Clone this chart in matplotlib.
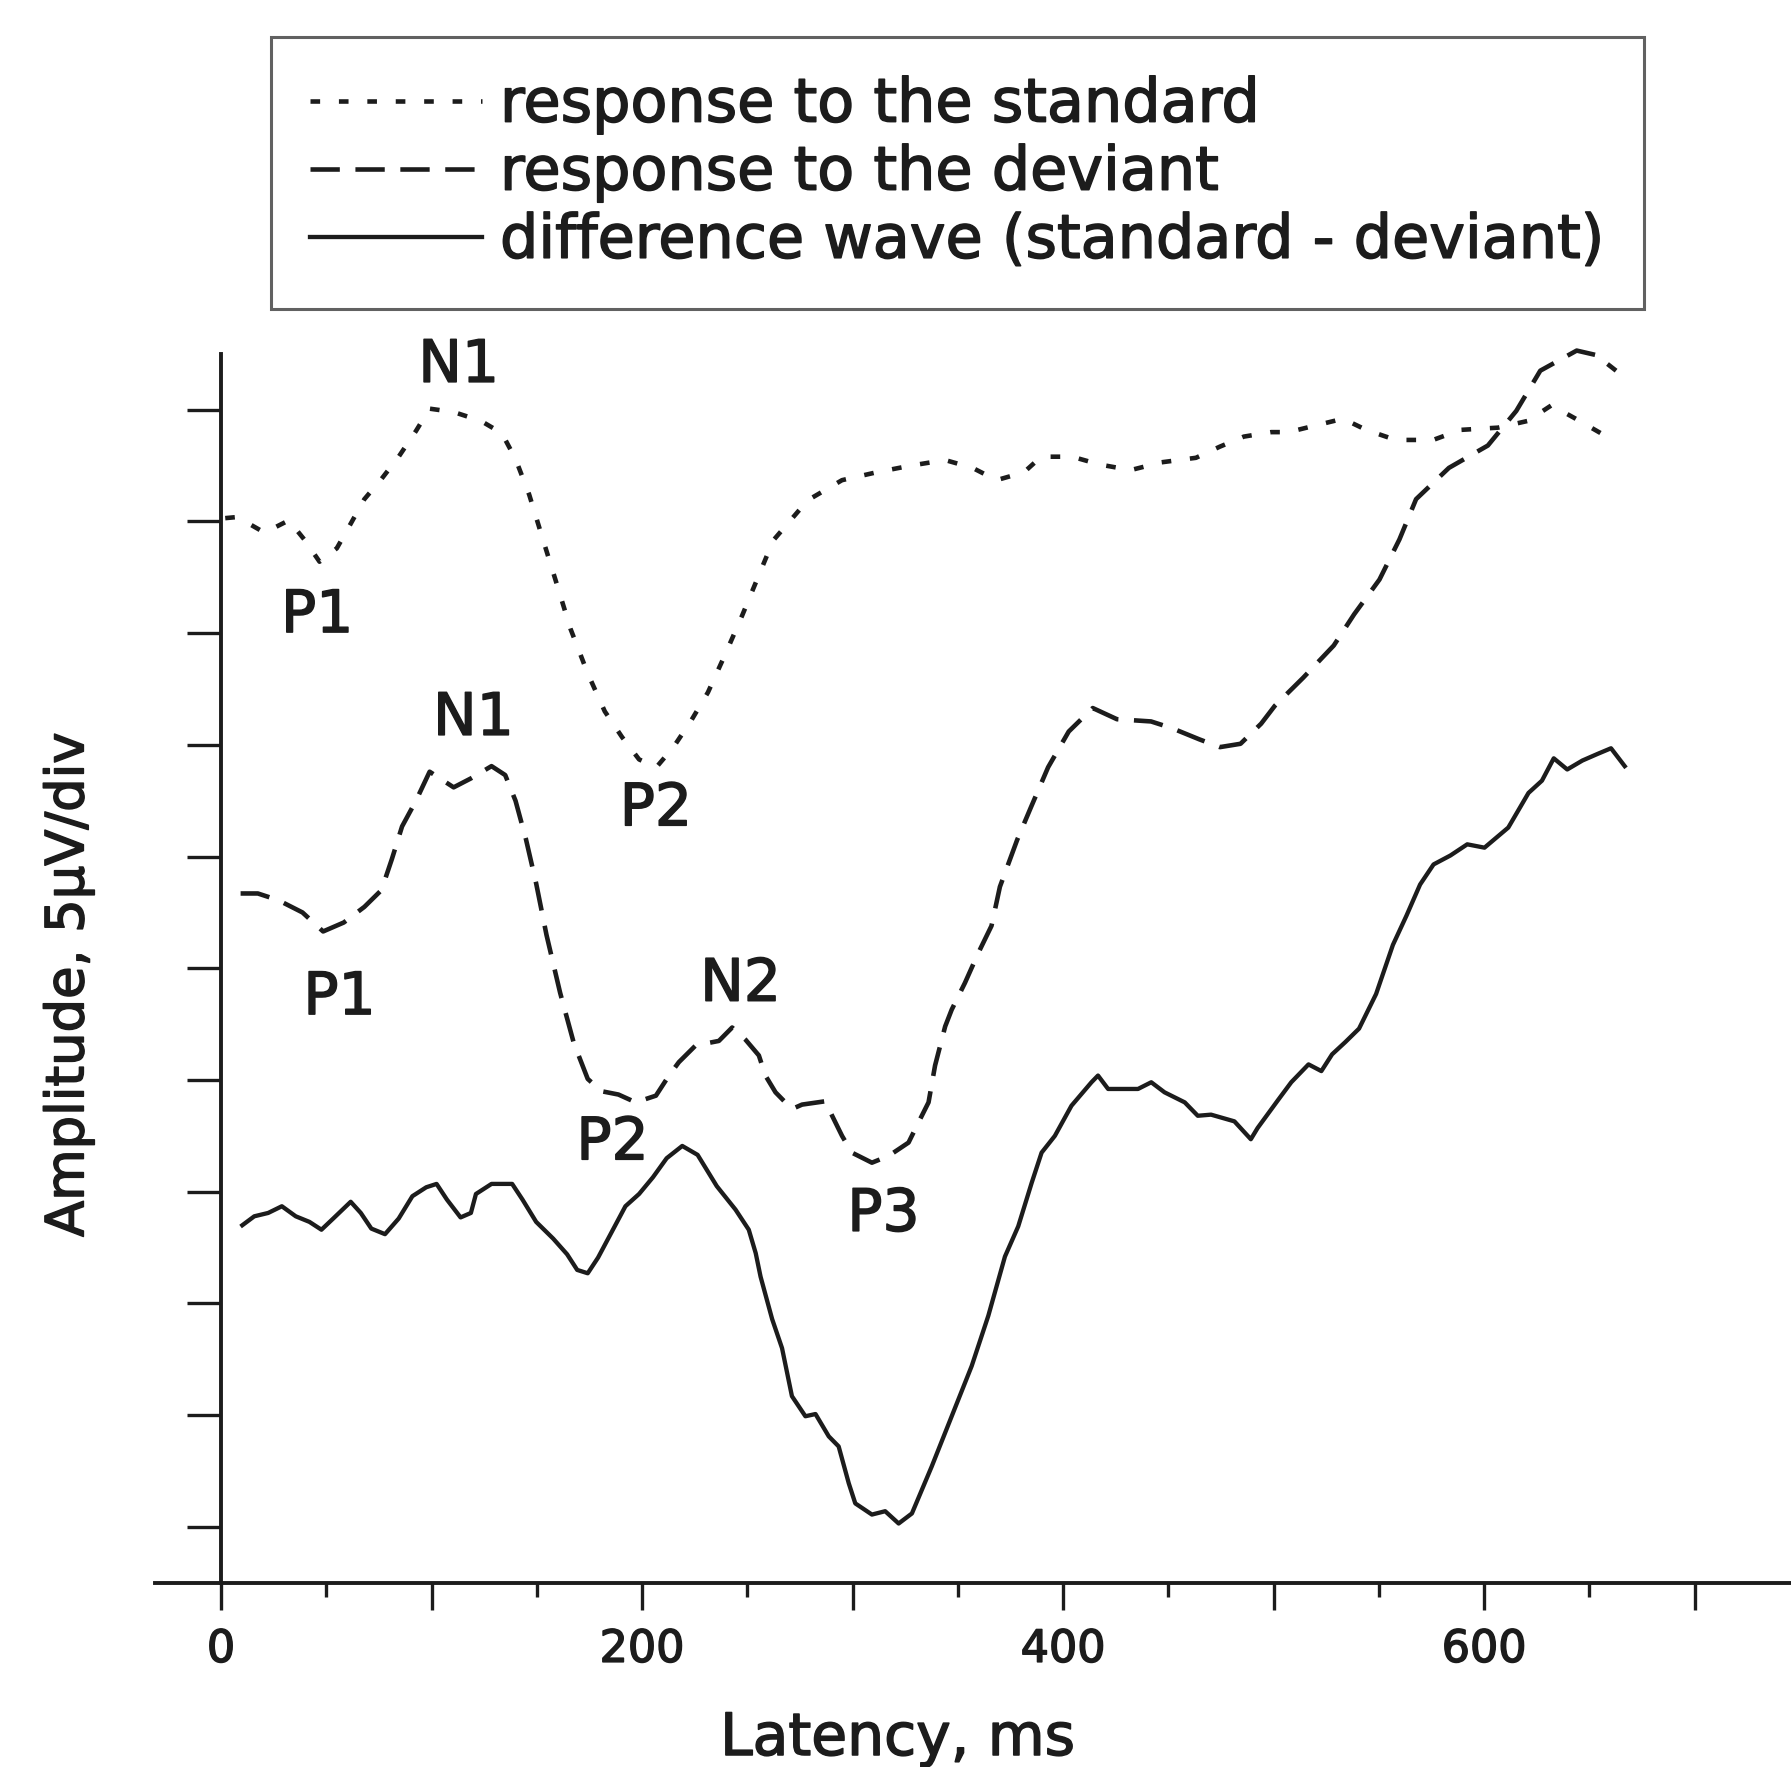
import matplotlib
matplotlib.use("Agg")
from matplotlib import pyplot as plt
from matplotlib import patheffects
from matplotlib.ticker import MultipleLocator, FixedLocator

# ---------------- DATA (latency in ms, amplitude in divisions of 5 uV) ----------------
std_ms = [2, 7.7, 20.7, 32.2, 39.5, 46.8, 55.0, 61.6, 68.1, 76.2, 84.4, 92.6, 99.1, 110.5,
          123.5, 133.4, 139.9, 146.4, 152.9, 159.5, 166.0, 174.2, 182.3, 190.5, 198.6, 206.8,
          214.9, 223.1, 231.3, 239.5, 247.6, 262.3, 278.7, 295.0, 311.3, 327.6, 344.0, 357.0,
          368.4, 381.4, 389.6, 404.3, 417.4, 432.1, 446.8, 463.1, 474.5, 485.9, 498.9, 507.1,
          517.9, 533.0, 544.0, 558.0, 575.8, 588.8, 606.6, 620.7, 632.0, 643.5, 656.4]
std_amp = [9.03, 9.04, 8.90, 9.01, 8.84, 8.64, 8.76, 8.98, 9.20, 9.38, 9.58, 9.81, 10.01, 9.98,
           9.90, 9.79, 9.56, 9.24, 8.84, 8.44, 8.04, 7.64, 7.30, 7.07, 6.87, 6.80,
           6.98, 7.21, 7.47, 7.81, 8.16, 8.83, 9.19, 9.37, 9.44, 9.50, 9.55, 9.48,
           9.37, 9.44, 9.58, 9.58, 9.51, 9.46, 9.53, 9.57, 9.67, 9.76, 9.80, 9.80,
           9.85, 9.92, 9.82, 9.73, 9.73, 9.82, 9.84, 9.90, 10.04, 9.92, 9.78]

dev_ms = [9.3, 17.5, 27.2, 38.7, 48.5, 58.3, 68.1, 76.2, 81.2, 86.0, 92.6, 99.1, 110.5, 118.7,
          128.5, 135.0, 139.9, 144.8, 149.7, 154.6, 161.1, 167.6, 174.2, 180.7, 188.8, 197.0,
          206.6, 212.8, 217.5, 225.5, 236.5, 242.8, 249.2, 255.5, 258.6, 263.4, 271.2, 276.0,
          287.1, 290.3, 295.0, 299.7, 309.2, 317.1, 326.6, 331.3, 336.1, 339.2, 344.0, 347.1,
          353.4, 359.8, 366.0, 370.0, 378.2, 384.7, 392.9, 402.7, 414.1, 425.6, 441.8, 451.7,
          464.7, 474.5, 484.3, 494.1, 500.6, 514.0, 528.6, 538.3, 550.3, 559.8, 567.7, 583.3,
          601.8, 615.3, 626.7, 644.0, 653.2, 662.7]
dev_amp = [5.67, 5.67, 5.61, 5.50, 5.33, 5.41, 5.55, 5.70, 5.98, 6.27, 6.50, 6.76, 6.62, 6.70,
           6.81, 6.73, 6.50, 6.16, 5.76, 5.30, 4.78, 4.33, 4.01, 3.90, 3.87, 3.80,
           3.86, 4.04, 4.16, 4.31, 4.35, 4.47, 4.36, 4.22, 4.04, 3.89, 3.74, 3.78,
           3.81, 3.68, 3.50, 3.35, 3.26, 3.32, 3.44, 3.62, 3.80, 4.13, 4.48, 4.63,
           4.87, 5.14, 5.38, 5.73, 6.15, 6.44, 6.80, 7.12, 7.33, 7.23, 7.21, 7.15,
           7.05, 6.98, 7.01, 7.19, 7.35, 7.60, 7.89, 8.17, 8.48, 8.84, 9.20, 9.48,
           9.68, 9.99, 10.35, 10.53, 10.49, 10.35]

diff_ms = [10.1, 15.8, 22.4, 28.9, 35.5, 42.0, 47.7, 53.3, 61.6, 66.4, 71.4, 77.9, 84.4, 90.9,
           97.5, 102.4, 107.3, 113.8, 118.7, 121.1, 128.5, 138.3, 143.2, 149.7, 157.8, 164.4,
           169.2, 174.2, 179.1, 185.6, 192.1, 198.6, 205.2, 211.7, 219.1, 226.4, 235.5, 244.4,
           250.7, 254.0, 256.3, 261.8, 266.5, 271.2, 277.6, 282.4, 288.7, 293.4, 298.2, 301.3,
           309.2, 315.5, 321.9, 328.2, 337.6, 347.1, 356.6, 364.5, 372.4, 378.7, 385.1, 389.8,
           396.1, 404.0, 413.5, 416.6, 421.4, 435.6, 441.9, 448.2, 457.8, 464.0, 470.3, 481.4,
           489.2, 492.4, 502.1, 508.4, 516.6, 522.7, 527.8, 534.1, 540.6, 548.7, 556.7, 563.1,
           569.6, 576.0, 584.0, 592.0, 600.2, 611.5, 621.1, 627.5, 633.1, 639.5, 646.7, 654.0,
           660.3, 666.8]
diff_amp = [2.70, 2.78, 2.81, 2.87, 2.78, 2.73, 2.66, 2.76, 2.91, 2.81, 2.67, 2.62, 2.76, 2.96,
            3.04, 3.07, 2.93, 2.77, 2.81, 2.98, 3.07, 3.07, 2.93, 2.73, 2.58, 2.44,
            2.30, 2.27, 2.41, 2.64, 2.87, 2.98, 3.13, 3.30, 3.41, 3.33, 3.05, 2.84,
            2.66, 2.45, 2.24, 1.86, 1.60, 1.17, 0.99, 1.01, 0.81, 0.72, 0.39, 0.21,
            0.11, 0.14, 0.03, 0.12, 0.54, 0.99, 1.44, 1.89, 2.42, 2.69, 3.08, 3.35,
            3.50, 3.77, 3.98, 4.04, 3.92, 3.92, 3.98, 3.89, 3.80, 3.68, 3.69, 3.63,
            3.47, 3.57, 3.82, 3.98, 4.14, 4.08, 4.23, 4.34, 4.46, 4.77, 5.21, 5.47,
            5.75, 5.93, 6.01, 6.11, 6.08, 6.26, 6.57, 6.68, 6.88, 6.78, 6.86, 6.92,
            6.97, 6.81]

# component labels: text, latency, baseline amplitude
peak_names = ["N1", "P1", "P2", "N1", "P1", "N2", "P2", "P3"]
peak_ms = [112.9, 45.7, 206.6, 119.9, 56.3, 246.8, 186.0, 314.7]
peak_amp = [10.25, 8.01, 6.28, 7.09, 4.59, 4.71, 3.29, 2.65]

legend_labels = ["response to the standard",
                 "response to the deviant",
                 "difference wave (standard - deviant)"]
xtick_vals = [0, 100, 200, 300, 400, 500, 600, 700]
xtick_text = ["0", "", "200", "", "400", "", "600", ""]

#----------------------------PLOT-------------------------------
plt.rcParams["font.family"] = ["DejaVu Sans"]
ink = "#1c1c1c"
heavy = [patheffects.withStroke(linewidth=1.1, foreground=ink)]

fig = plt.figure(figsize=(17.91, 17.67), dpi=100)
ax = fig.add_axes([0.0865, 0.1043, 0.9135, 0.6954])

lw = 3.3
l1, = ax.plot(std_ms, std_amp, color=ink, lw=lw, linestyle=(0, (2.1, 4.1)), clip_on=False)
l2, = ax.plot(dev_ms, dev_amp, color=ink, lw=lw, linestyle=(0, (6.4, 3.4)), clip_on=False)
l3, = ax.plot(diff_ms, diff_amp, color=ink, lw=3.1, clip_on=False)

for name, x, y in zip(peak_names, peak_ms, peak_amp):
    ax.text(x, y, name, ha="center", va="baseline", fontsize=42, color=ink,
            path_effects=heavy)

ax.set_xlim(-31.4, 745.8)
ax.set_ylim(-0.5, 10.5)

#---------------------------AXES-------------------------------
ax.spines["top"].set_visible(False)
ax.spines["right"].set_visible(False)
ax.spines["left"].set_position(("data", 0))
for s in ("left", "bottom"):
    ax.spines[s].set_linewidth(2.8)
    ax.spines[s].set_color(ink)

ax.xaxis.set_major_locator(FixedLocator(xtick_vals))
ax.set_xticklabels(xtick_text)
ax.xaxis.set_minor_locator(FixedLocator([50, 150, 250, 350, 450, 550, 650]))
ax.yaxis.set_major_locator(MultipleLocator(1))
ax.tick_params(axis="x", which="major", direction="out", length=19.5, width=2.4,
               color=ink, labelsize=32, labelcolor=ink, pad=13)
ax.tick_params(axis="x", which="minor", direction="out", length=10, width=2.4, color=ink)
ax.tick_params(axis="y", which="major", direction="out", length=24.5, width=2.4,
               color=ink, labelleft=False)
for t in ax.get_xticklabels():
    t.set_path_effects(heavy)

ax.set_xlabel("Latency, ms", fontsize=42, color=ink, path_effects=heavy)
ax.xaxis.set_label_coords(0.454, -0.1036)
ax.set_ylabel("Amplitude, 5\u00b5V/div", fontsize=38, color=ink, path_effects=heavy)
ax.yaxis.set_label_coords(-0.037, 0.4865)

#--------------------------LEGEND------------------------------
leg = fig.legend([l1, l2, l3], legend_labels, loc="upper left",
                 bbox_to_anchor=(271 / 1791, 1 - 37 / 1767), bbox_transform=fig.transFigure,
                 borderaxespad=0, fancybox=False, fontsize=43.5, handlelength=2.85,
                 handletextpad=0.3, borderpad=0.64, labelspacing=0.15)
leg.get_frame().set_edgecolor("#3a3a3a")
leg.get_frame().set_linewidth(2.2)
for t in leg.get_texts():
    t.set_color(ink)
    t.set_path_effects(heavy)

fig.savefig("out.png", dpi=100)
